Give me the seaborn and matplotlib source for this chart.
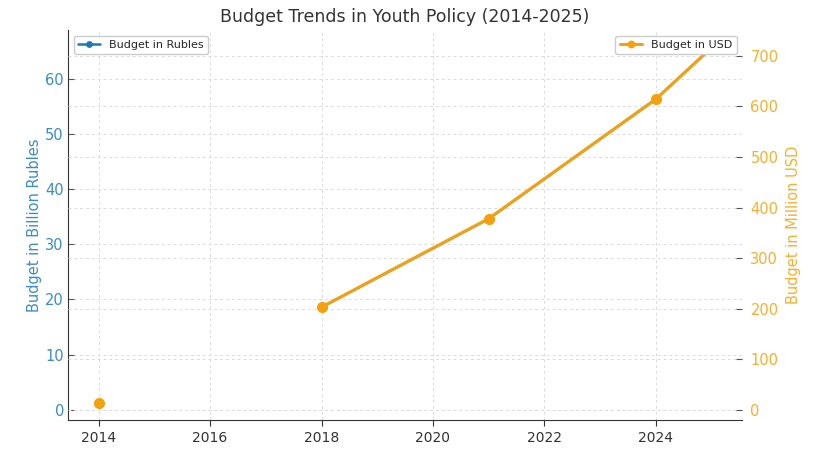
import numpy as np
import pandas as pd
import seaborn as sns
import matplotlib.pyplot as plt

years = [2014, 2015, 2016, 2017, 2018, 2021, 2024, 2025]
rubles = [1.3, np.nan, np.nan, np.nan, 18.6, 34.6, 56.3, 65.6]
usd = [14, np.nan, np.nan, np.nan, 203, 378, 614, 716]

df = pd.DataFrame({"Year": years, "Rubles": rubles, "USD": usd})

sns.set_style("whitegrid", {"grid.linestyle": (0, (3, 3)), "grid.color": "#dcdcdc"})
plt.rcParams["font.family"] = ["DejaVu Sans"]
plt.rcParams["grid.linewidth"] = 0.7

blue = "#1f77b4"
orange = "#f5a00f"

fig, ax1 = plt.subplots(figsize=(8.2, 4.62), dpi=100)
fig.subplots_adjust(left=0.083, right=0.905, top=0.935, bottom=0.09)

# plain plot keeps the gap for the missing years (lineplot would drop the NaNs)
ax1.plot(df["Year"], df["Rubles"], color=blue, marker="o", markersize=7,
         markeredgewidth=0, linewidth=1.8, label="Budget in Rubles")
ax1.set_ylabel("Budget in Billion Rubles", color="#3a8cc8", fontsize=10.5, labelpad=2)
ax1.set_xlabel("")
ax1.tick_params(axis="y", labelcolor="#3a8cc8", labelsize=10.5, length=4, left=True,
                direction="in", pad=3, color="#555555")
ax1.tick_params(axis="x", labelsize=10, colors="#333333", length=4, bottom=True)
ax1.legend(loc="upper left", fontsize=8, framealpha=1, markerscale=0.7)

ax2 = ax1.twinx()
ax2.plot(df["Year"], df["USD"], color=orange, marker="o", markersize=8,
         markeredgewidth=0, linewidth=2.2, label="Budget in USD")
ax2.set_ylabel("Budget in Million USD", color="#f5b030", fontsize=10.5, labelpad=5)
ax2.tick_params(axis="y", labelcolor="#f5b030", labelsize=10.5, length=4, right=True,
                direction="in", color="#555555", pad=6)
ax2.legend(loc="upper right", fontsize=8, framealpha=1, markerscale=0.7)
ax2.grid(True, linestyle=(0, (3, 3)), color="#dcdcdc", linewidth=0.7)

for ax in (ax1, ax2):
    for s in ("top", "right"):
        ax.spines[s].set_visible(False)
    ax.spines["left"].set_color("#333333")
    ax.spines["bottom"].set_color("#333333")
ax2.spines["left"].set_visible(False)
ax2.spines["bottom"].set_visible(False)

ax1.set_title("Budget Trends in Youth Policy (2014-2025)", fontsize=12.5, color="#333333")

fig.savefig("out.png", dpi=100)
